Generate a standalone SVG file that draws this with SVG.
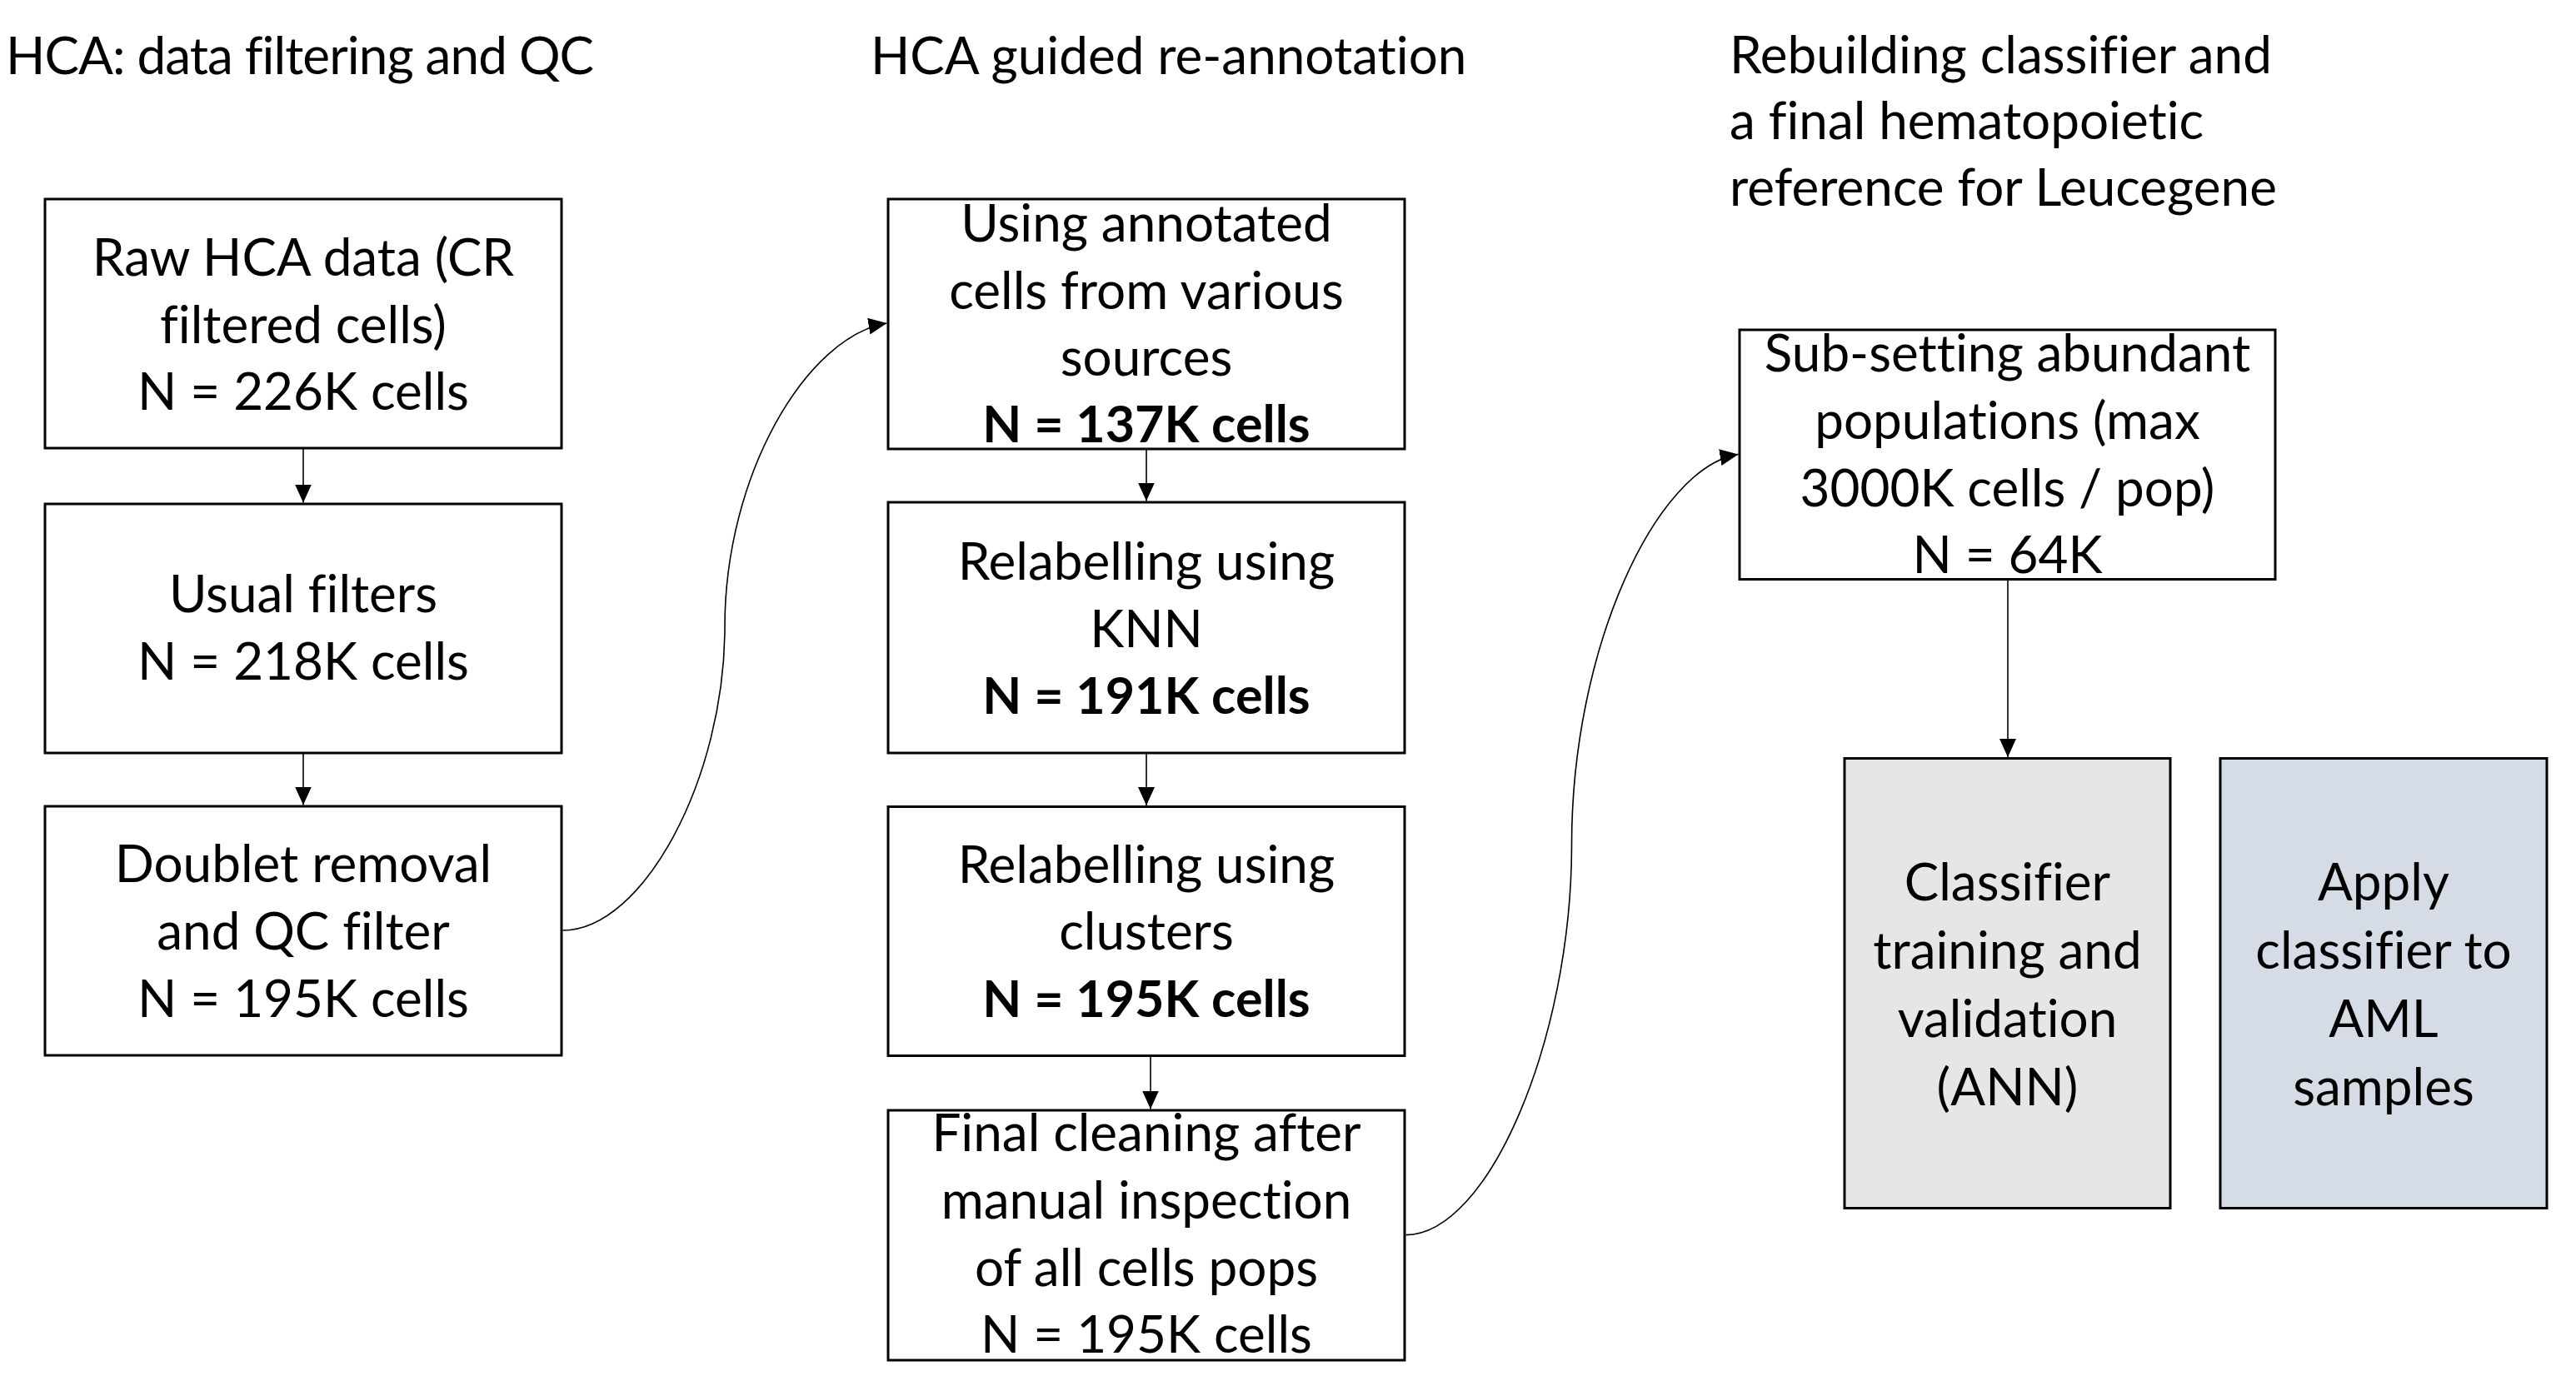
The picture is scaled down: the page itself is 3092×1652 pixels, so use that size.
<svg xmlns="http://www.w3.org/2000/svg" width="3092" height="1652" viewBox="0 0 3092 1652">
<style>
  text { font-family: Lato, "Liberation Sans", sans-serif; font-size: 62px; fill: #000; font-variant-ligatures: none; font-feature-settings: "liga" 0, "dlig" 0, "clig" 0; }
  .c { text-anchor: middle; }
  .b { font-weight: bold; font-size: 61px; }
  .box { fill: #FFFFFF; stroke: #000; stroke-width: 3; }
  .g1 { fill: #E7E6E6; stroke: #000; stroke-width: 3; }
  .g2 { fill: #D6DCE5; stroke: #000; stroke-width: 3; }
  .con { fill: none; stroke: #000; stroke-width: 1.6; marker-end: url(#arr); }
</style>
<defs>
  <marker id="arr" markerUnits="userSpaceOnUse" markerWidth="22" markerHeight="20" refX="22" refY="10" orient="auto">
    <path d="M0,0 L22,10 L0,20 Z" fill="#000"/>
  </marker>
</defs>
<rect width="3092" height="1652" fill="#FFFFFF"/>

<g id="titles">
  <text x="7" y="89" textLength="706" lengthAdjust="spacing">HCA: data filtering and QC</text>
  <text x="1045" y="89">HCA guided re-annotation</text>
  <text x="2076" y="88">Rebuilding classifier and</text>
  <text x="2076" y="167">a final hematopoietic</text>
  <text x="2076" y="247">reference for Leucegene</text>
</g>

<g id="connectors">
  <line class="con" x1="364" y1="538" x2="364" y2="603.5"/>
  <line class="con" x1="364" y1="904" x2="364" y2="966.5"/>
  <line class="con" x1="1376" y1="538.7" x2="1376" y2="601.5"/>
  <line class="con" x1="1376" y1="904" x2="1376" y2="967"/>
  <line class="con" x1="1381" y1="1267.5" x2="1381" y2="1331.5"/>
  <line class="con" x1="2410" y1="695.5" x2="2410" y2="909"/>
  <path class="con" d="M675.5,1117 C772,1117 870,934.75 870,752.5 C870,570.25 968,404 1064.5,388"/>
  <path class="con" d="M1687.5,1482.6 C1786.25,1482.6 1886.5,1248.3 1886.5,1014 C1886.5,779.7 1986.75,562 2086.5,545.4"/>
</g>

<g id="n1">
  <rect class="box" x="54" y="239" width="620" height="299"/>
  <text class="c" x="364" y="331">Raw HCA data (CR</text>
  <text class="c" x="364" y="412">filtered cells)</text>
  <text class="c" x="364" y="492">N = 226K cells</text>
</g>
<g id="n2">
  <rect class="box" x="54" y="605" width="620" height="299"/>
  <text class="c" x="364" y="735">Usual filters</text>
  <text class="c" x="364" y="816">N = 218K cells</text>
</g>
<g id="n3">
  <rect class="box" x="54" y="968" width="620" height="299"/>
  <text class="c" x="364" y="1059">Doublet removal</text>
  <text class="c" x="364" y="1140">and QC filter</text>
  <text class="c" x="364" y="1221">N = 195K cells</text>
</g>

<g id="n4">
  <rect class="box" x="1066" y="239" width="620" height="300"/>
  <text class="c" x="1376" y="290">Using annotated</text>
  <text class="c" x="1376" y="371">cells from various</text>
  <text class="c" x="1376" y="451">sources</text>
  <text class="c b" x="1376" y="531">N = 137K cells</text>
</g>
<g id="n5">
  <rect class="box" x="1066" y="603" width="620" height="301"/>
  <text class="c" x="1376" y="696">Relabelling using</text>
  <text class="c" x="1376" y="777">KNN</text>
  <text class="c b" x="1376" y="857">N = 191K cells</text>
</g>
<g id="n6">
  <rect class="box" x="1066" y="968.5" width="620" height="299"/>
  <text class="c" x="1376" y="1060">Relabelling using</text>
  <text class="c" x="1376" y="1140">clusters</text>
  <text class="c b" x="1376" y="1221">N = 195K cells</text>
</g>
<g id="n7">
  <rect class="box" x="1066" y="1333" width="620" height="300"/>
  <text class="c" x="1376" y="1382">Final cleaning after</text>
  <text class="c" x="1376" y="1463">manual inspection</text>
  <text class="c" x="1376" y="1544">of all cells pops</text>
  <text class="c" x="1376" y="1624">N = 195K cells</text>
</g>

<g id="n8">
  <rect class="box" x="2088" y="396" width="643" height="299.5"/>
  <text class="c" x="2409.5" y="446">Sub-setting abundant</text>
  <text class="c" x="2409.5" y="527">populations (max</text>
  <text class="c" x="2409.5" y="608">3000K cells / pop)</text>
  <text class="c" x="2409.5" y="688">N = 64K</text>
</g>
<g id="n9">
  <rect class="g1" x="2214" y="910.5" width="391" height="540"/>
  <text class="c" x="2409.5" y="1081">Classifier</text>
  <text class="c" x="2409.5" y="1163">training and</text>
  <text class="c" x="2409.5" y="1245">validation</text>
  <text class="c" x="2409.5" y="1327">(ANN)</text>
</g>
<g id="n10">
  <rect class="g2" x="2665" y="910.5" width="392" height="540"/>
  <text class="c" x="2861" y="1081">Apply</text>
  <text class="c" x="2861" y="1163">classifier to</text>
  <text class="c" x="2861" y="1245">AML</text>
  <text class="c" x="2861" y="1327">samples</text>
</g>
</svg>
